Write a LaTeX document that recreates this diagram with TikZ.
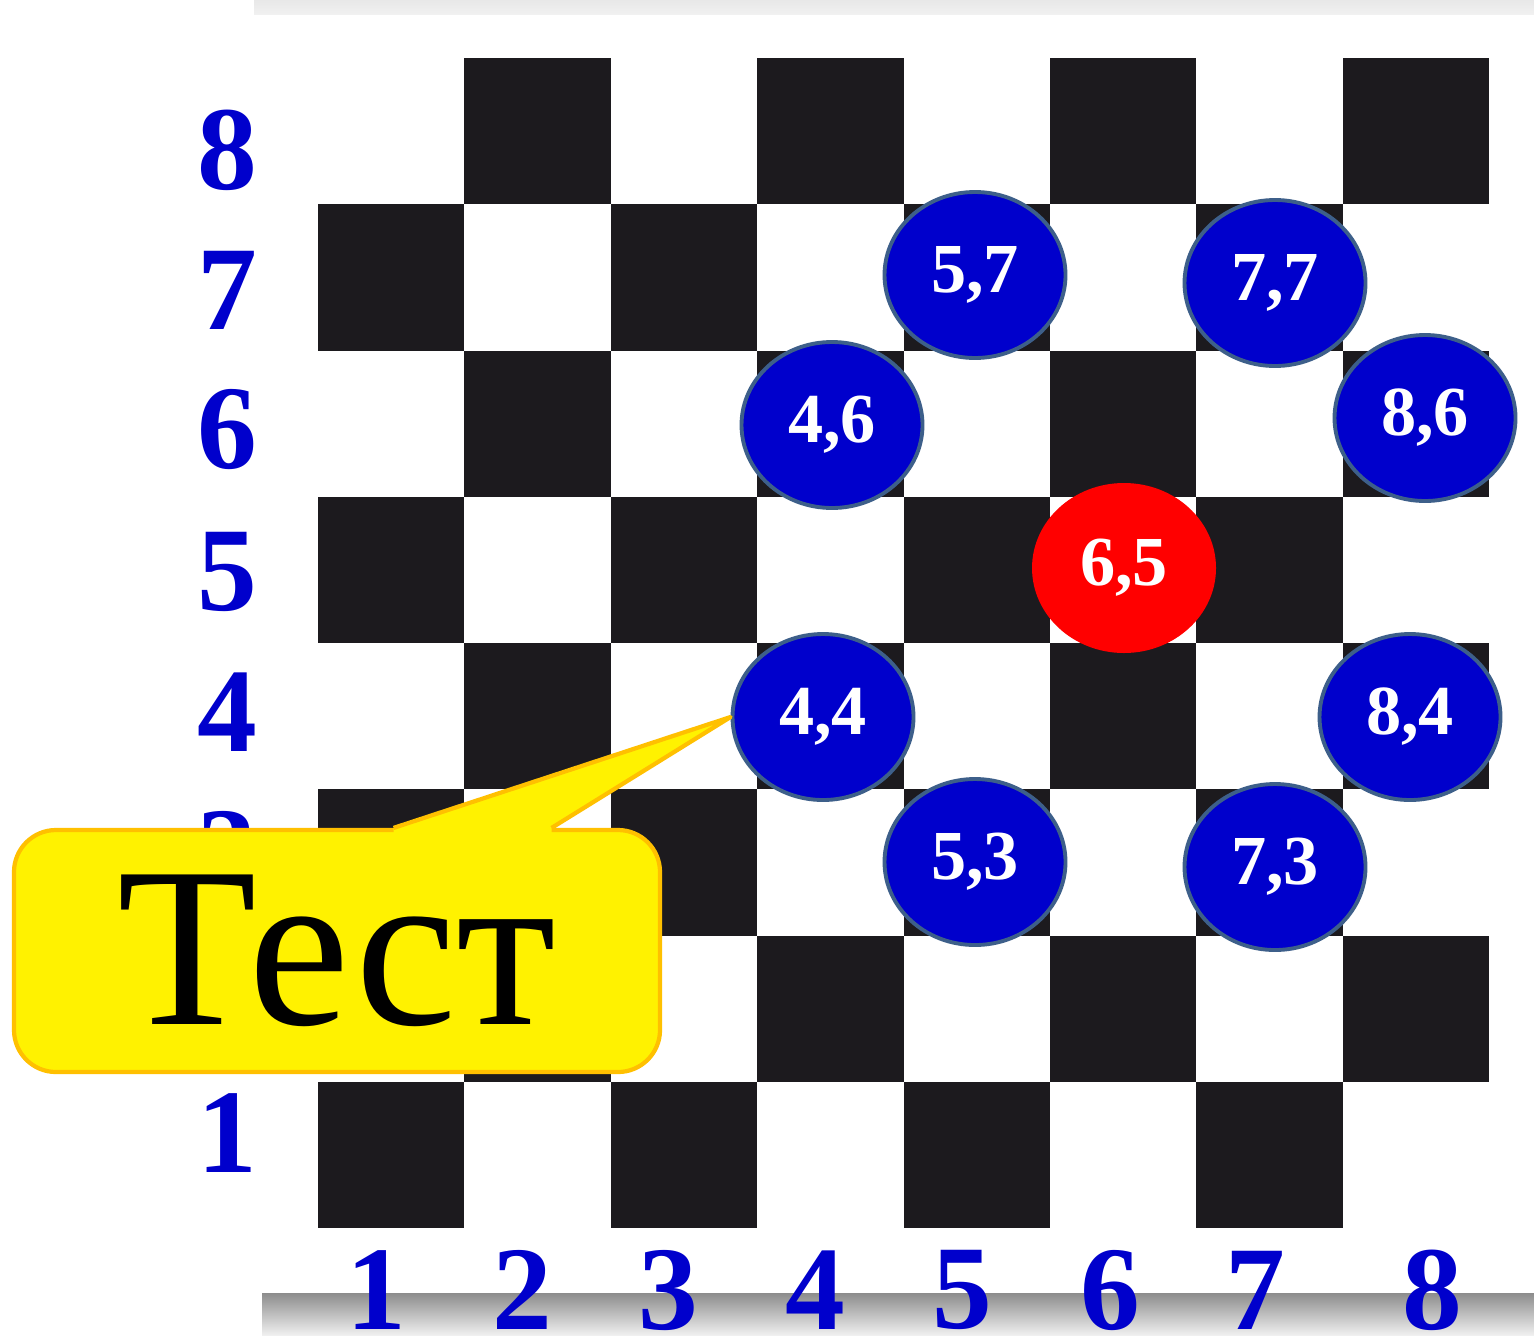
\documentclass[tikz,border=0pt]{standalone}
\usepackage{fontspec}
\setmainfont{Liberation Serif}
\usepackage{tikz}
\usetikzlibrary{calc,shapes.geometric}
\definecolor{numblue}{RGB}{0,0,204}
\definecolor{rimblue}{RGB}{61,95,138}
\definecolor{darksq}{RGB}{28,26,30}
\definecolor{tipgold}{RGB}{255,192,0}
\definecolor{bandgray}{RGB}{232,232,232}

\begin{document}
\begin{tikzpicture}[
    move/.style={ellipse,fill=numblue,draw=rimblue,line width=1.1pt,minimum width=1.81cm,minimum height=1.66cm,inner sep=0pt,text=white,font=\bfseries\fontsize{20}{24}\selectfont},
    start/.style={move,fill=red,draw=none,minimum width=1.84cm,minimum height=1.70cm},
    axislbl/.style={text=numblue,inner sep=0pt,font=\bfseries\fontsize{34}{40}\selectfont}]
  \useasboundingbox (0,0) rectangle (15.34,13.35);
  \fill[white] (0,0) rectangle (15.34,13.35);
  \shade[top color=bandgray,bottom color=bandgray!60] (2.54,13.20) rectangle (15.34,13.35);
  \shade[top color=black!45,bottom color=black!6] (2.62,0) rectangle (15.34,0.42);
  \fill[white] (2.54,0.42) rectangle (15.34,13.20);
  \foreach \c in {1,...,8}
    \foreach \r in {1,...,8} {
      \pgfmathtruncatemacro{\parity}{mod(\c+\r,2)}
      \ifnum\parity=0
        \fill[darksq] ({3.18+(\c-1)*1.464},{1.07+(\r-1)*1.4625}) rectangle +(1.464,1.4625);
      \fi
    }
  \foreach \r/\y in {1/2.02,2/3.43,3/4.83,4/6.23,5/7.63,6/9.05,7/10.45,8/11.85}
    \node[axislbl] (row\r) at (2.27,\y) {\r};
  \foreach \c/\x in {1/3.76,2/5.22,3/6.68,4/8.15,5/9.62,6/11.10,7/12.55,8/14.32}
    \node[axislbl] (col\c) at (\x,0.45) {\c};

  \node[move] (m57) at (9.75,10.60) {5,7};
  \node[move] (m77) at (12.75,10.52) {7,7};
  \node[move] (m46) at (8.32,9.10) {4,6};
  \node[move] (m86) at (14.25,9.17) {8,6};
  \node[start] (m65) at (11.24,7.67) {6,5};
  \node[move] (m44) at (8.23,6.18) {4,4};
  \node[move] (m84) at (14.10,6.18) {8,4};
  \node[move] (m53) at (9.75,4.73) {5,3};
  \node[move] (m73) at (12.75,4.68) {7,3};

  \node[fill=yellow,draw=tipgold,line width=1.2pt,rounded corners=0.42cm,minimum width=6.46cm,minimum height=2.42cm,inner sep=0pt,font=\fontsize{65}{70}\selectfont] (test) at (3.37,3.84) {Тест};
  \coordinate (tl) at ($(test.north west)!0.587!(test.north east)$);
  \coordinate (tr) at ($(test.north west)!0.83!(test.north east)$);
  \fill[yellow] (tl) -- (m44.west) -- (tr) -- ([yshift=-1.5pt]tr) -- ([yshift=-1.5pt]tl) -- cycle;
  \draw[tipgold,line width=1.2pt,line join=round] (tl) -- (m44.west) -- (tr);
\end{tikzpicture}
\end{document}
